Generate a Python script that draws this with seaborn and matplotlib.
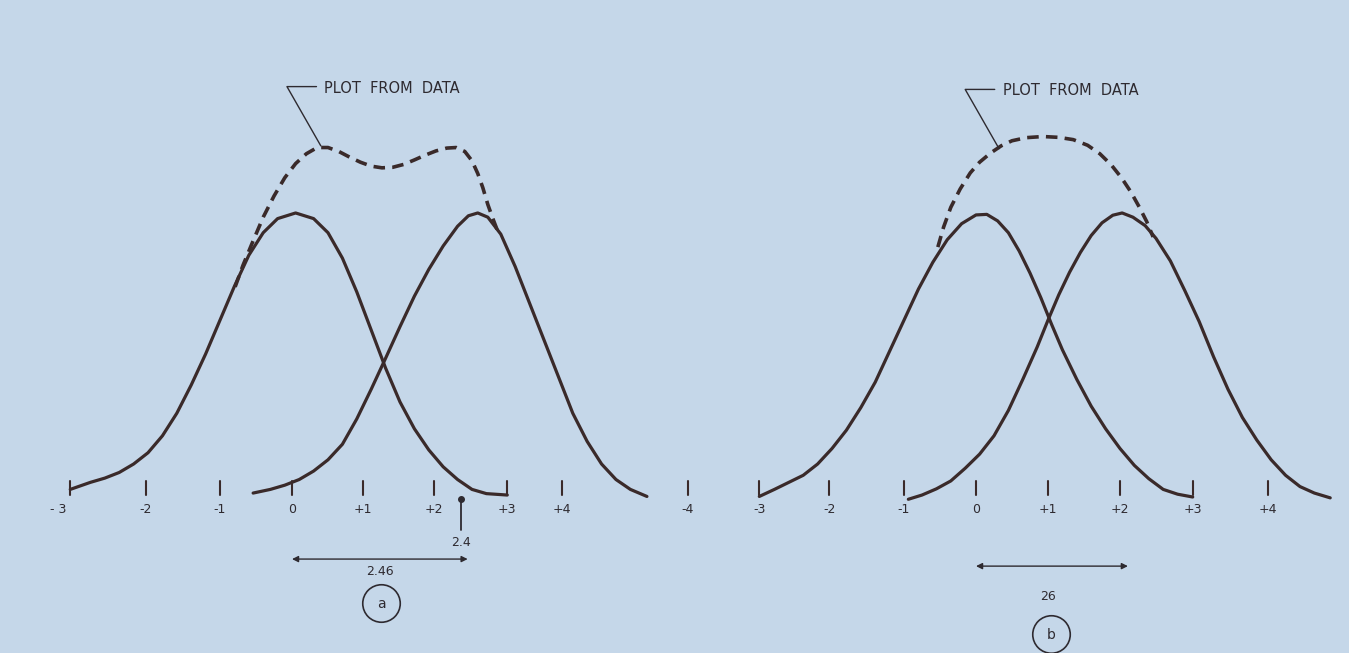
import numpy as np
import matplotlib
matplotlib.use("Agg")
import matplotlib.pyplot as plt
import seaborn as sns

# x in standard-deviation units (0 = first peak), y = height relative to one peak
# panel (a): peaks 2.46 apart
a1_x = [-3.08, -2.8, -2.6, -2.4, -2.2, -2.0, -1.8, -1.6, -1.4, -1.2, -1.0, -0.8, -0.6,
        -0.4, -0.2, 0.05, 0.3, 0.5, 0.7, 0.9, 1.1, 1.3, 1.5, 1.7, 1.9, 2.1, 2.3, 2.5,
        2.7, 2.99]
a1_y = [0.02, 0.045, 0.06, 0.08, 0.11, 0.15, 0.21, 0.29, 0.39, 0.50, 0.62, 0.74, 0.85,
        0.93, 0.98, 1.0, 0.98, 0.93, 0.84, 0.72, 0.585, 0.45, 0.33, 0.235, 0.16, 0.10,
        0.055, 0.02, 0.005, 0.0]
a2_x = [-0.54, -0.3, -0.1, 0.1, 0.3, 0.5, 0.7, 0.9, 1.1, 1.3, 1.5, 1.7, 1.9, 2.1, 2.3,
        2.45, 2.58, 2.72, 2.9, 3.1, 3.3, 3.5, 3.7, 3.9, 4.1, 4.3, 4.5, 4.7, 4.93]
a2_y = [0.007, 0.02, 0.035, 0.055, 0.085, 0.125, 0.18, 0.27, 0.375, 0.485, 0.597, 0.705,
        0.80, 0.883, 0.953, 0.99, 1.0, 0.985, 0.925, 0.81, 0.68, 0.55, 0.42, 0.29, 0.19,
        0.11, 0.055, 0.02, -0.005]
a_sum_x = [-0.79, -0.68, -0.55, -0.4, -0.25, -0.1, 0.05, 0.2, 0.35, 0.5, 0.65, 0.8, 0.95,
           1.1, 1.25, 1.4, 1.55, 1.7, 1.85, 2.0, 2.15, 2.28, 2.4, 2.5, 2.58, 2.65, 2.72,
           2.79, 2.85]
a_sum_y = [0.738, 0.815, 0.895, 0.985, 1.06, 1.125, 1.175, 1.21, 1.232, 1.232, 1.218,
           1.198, 1.18, 1.166, 1.16, 1.162, 1.172, 1.188, 1.205, 1.22, 1.23, 1.232, 1.218,
           1.185, 1.14, 1.09, 1.03, 0.98, 0.94]

# panel (b): peaks 2 apart
b1_x = [-3.01, -2.8, -2.6, -2.4, -2.2, -2.0, -1.8, -1.6, -1.4, -1.2, -1.0, -0.8, -0.6,
        -0.4, -0.2, 0.0, 0.15, 0.3, 0.45, 0.6, 0.75, 0.9, 1.05, 1.2, 1.4, 1.6, 1.8, 2.0,
        2.2, 2.4, 2.6, 2.8, 3.01]
b1_y = [-0.005, 0.02, 0.045, 0.07, 0.11, 0.165, 0.23, 0.31, 0.40, 0.51, 0.62, 0.73,
        0.825, 0.905, 0.962, 0.993, 0.995, 0.972, 0.93, 0.865, 0.787, 0.70, 0.605, 0.515,
        0.41, 0.315, 0.235, 0.165, 0.105, 0.058, 0.02, 0.003, -0.007]
b2_x = [-0.94, -0.75, -0.55, -0.35, -0.15, 0.05, 0.25, 0.45, 0.65, 0.85, 1.0, 1.15, 1.3,
        1.45, 1.6, 1.75, 1.9, 2.03, 2.18, 2.35, 2.5, 2.7, 2.9, 3.1, 3.3, 3.5, 3.7, 3.9,
        4.1, 4.3, 4.5, 4.7, 4.92]
b2_y = [-0.015, 0.0, 0.022, 0.05, 0.095, 0.145, 0.21, 0.30, 0.41, 0.525, 0.62, 0.71,
        0.79, 0.86, 0.92, 0.965, 0.992, 1.0, 0.985, 0.955, 0.91, 0.83, 0.725, 0.615,
        0.49, 0.375, 0.275, 0.195, 0.125, 0.07, 0.03, 0.007, -0.01]
b_sum_x = [-0.53, -0.45, -0.35, -0.22, -0.08, 0.05, 0.2, 0.35, 0.5, 0.7, 0.93, 1.15,
           1.35, 1.55, 1.72, 1.88, 2.02, 2.15, 2.27, 2.37, 2.46]
b_sum_y = [0.879, 0.95, 1.02, 1.085, 1.142, 1.18, 1.212, 1.238, 1.256, 1.267, 1.271,
           1.268, 1.26, 1.24, 1.21, 1.17, 1.125, 1.075, 1.02, 0.97, 0.915]

ticks_a = [-3.08, -2.03, -1.0, 0.0, 0.99, 1.97, 2.99, 3.75]
labels_a = ['- 3', '-2', '-1', '0', '+1', '+2', '+3', '+4']
ticks_b = [-4.0, -3.01, -2.04, -1.0, 0.0, 1.0, 2.0, 3.01, 4.06]
labels_b = ['-4', '-3', '-2', '-1', '0', '+1', '+2', '+3', '+4']

mark_a = 2.35          # "2.4" marker
span_a = 2.44          # arrow under panel a
span_b = 2.11          # arrow under panel b
span_a_txt = '2.46'
mark_a_txt = '2.4'
span_b_txt = '26'

bg = '#c5d7e9'
ink = '#3a2a2a'
txt = '#2e2a30'

sns.set_theme(style='white', rc={'axes.facecolor': 'none', 'figure.facecolor': bg})
plt.rcParams['font.family'] = ['DejaVu Sans']

fig = plt.figure(figsize=(13.49, 6.53), dpi=100)
ax_a = fig.add_axes([0, 0, 0.5, 1])
ax_b = fig.add_axes([0.5, 0, 0.5, 1])


def panel(ax, c1x, c1y, c2x, c2y, sx, sy, ticks, labels, lead):
    sns.lineplot(x=c1x, y=c1y, ax=ax, color=ink, lw=2.3, estimator=None, sort=False)
    sns.lineplot(x=c2x, y=c2y, ax=ax, color=ink, lw=2.3, estimator=None, sort=False)
    sns.lineplot(x=sx, y=sy, ax=ax, color=ink, lw=2.6, estimator=None, sort=False,
                 linestyle=(0, (3.2, 2.0)))
    for t, lab in zip(ticks, labels):
        ax.plot([t, t], [0.0, 0.05], color=ink, lw=1.5)
        dx = -0.17 if lab == '- 3' else 0.0
        ax.text(t + dx, -0.053, lab, ha='center', va='center', fontsize=9, color=txt)
    # leader to the dashed curve
    px, py = lead
    ax.plot([px, px - 0.47, px - 0.06], [py, py + 0.21, py + 0.21], color=txt, lw=1.0)
    ax.text(px + 0.05, py + 0.205, 'PLOT  FROM  DATA', ha='left', va='center',
            fontsize=10.5, color=txt)
    ax.set_ylim(-0.560, 1.755)
    ax.axis('off')


panel(ax_a, a1_x, a1_y, a2_x, a2_y, a_sum_x, a_sum_y, ticks_a, labels_a, (0.40, 1.238))
panel(ax_b, b1_x, b1_y, b2_x, b2_y, b_sum_x, b_sum_y, ticks_b, labels_b, (0.32, 1.228))
ax_a.set_xlim(-4.056, 5.313)
ax_b.set_xlim(-4.188, 5.181)

# panel a annotations
ax_a.plot([mark_a, mark_a], [-0.014, -0.124], color=txt, lw=1.3)
ax_a.plot([mark_a], [-0.014], 'o', color=txt, ms=4)
ax_a.text(mark_a, -0.170, mark_a_txt, ha='center', va='center', fontsize=9, color=txt)
ax_a.annotate('', xy=(0, -0.227), xytext=(span_a, -0.227),
              arrowprops=dict(arrowstyle='<|-|>', color=txt, lw=1.0,
                              mutation_scale=9, shrinkA=0, shrinkB=0))
ax_a.text(span_a / 2, -0.272, span_a_txt, ha='center', va='center', fontsize=9, color=txt)
ax_a.plot([1.24], [-0.383], 'o', mfc='none', mec=txt, mew=1.2, ms=27)
ax_a.text(1.24, -0.385, 'a', ha='center', va='center', fontsize=10, color=txt)

# panel b annotations
ax_b.annotate('', xy=(0, -0.252), xytext=(span_b, -0.252),
              arrowprops=dict(arrowstyle='<|-|>', color=txt, lw=1.0,
                              mutation_scale=9, shrinkA=0, shrinkB=0))
ax_b.text(1.0, -0.358, span_b_txt, ha='center', va='center', fontsize=9, color=txt)
ax_b.plot([1.04], [-0.493], 'o', mfc='none', mec=txt, mew=1.2, ms=27)
ax_b.text(1.04, -0.495, 'b', ha='center', va='center', fontsize=10, color=txt)

fig.savefig('out.png', dpi=100, facecolor=bg)
